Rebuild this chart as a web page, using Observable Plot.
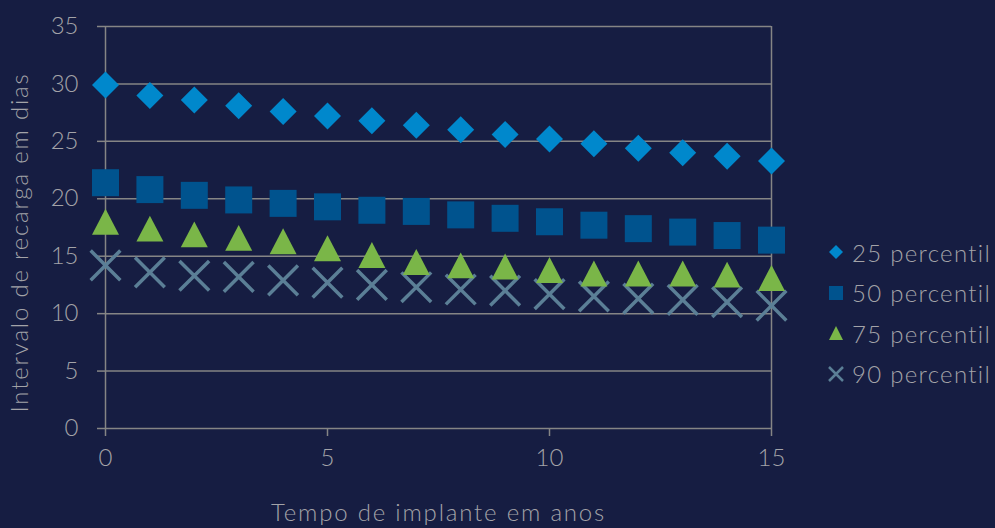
<!DOCTYPE html>
<html>
<head>
<meta charset="utf-8">
<script src="https://cdn.jsdelivr.net/npm/d3@7"></script>
<script src="https://cdn.jsdelivr.net/npm/@observablehq/plot@0.6"></script>
<style>
  html, body { margin: 0; padding: 0; background: #161d42; }
  #wrap { position: relative; width: 995px; height: 528px; overflow: hidden; background: #161d42; }
  #legend { position: absolute; left: 826px; top: 232px; font-family: Lato, "Open Sans", sans-serif; font-weight: 300; font-size: 24px; letter-spacing: 1.3px; color: #a3a3a8; }
  .row { height: 40.5px; display: flex; align-items: center; white-space: nowrap; }
  .row svg { width: 20px; height: 20px; margin-right: 6px; }
  svg [aria-label$="axis label"] { font-size: 24px; letter-spacing: 1.8px; }
  svg .ytitle text { letter-spacing: 1.8px; }
</style>
</head>
<body>
<div id="wrap"><div id="legend"></div></div>
<script>
const years = [0,1,2,3,4,5,6,7,8,9,10,11,12,13,14,15];
const p25 = [29.9,29.0,28.6,28.1,27.6,27.2,26.8,26.4,26.0,25.6,25.2,24.8,24.4,24.0,23.7,23.3];
const p50 = [21.4,20.8,20.3,19.9,19.6,19.3,19.0,18.9,18.6,18.3,18.0,17.7,17.4,17.1,16.8,16.4];
const p75 = [18.0,17.4,16.9,16.6,16.3,15.7,15.1,14.5,14.2,14.1,13.8,13.5,13.5,13.5,13.4,13.1];
const p90 = [14.2,13.6,13.3,13.2,12.9,12.7,12.5,12.3,12.1,12.0,11.7,11.5,11.3,11.2,11.0,10.7];
const seriesNames = ["25 percentil","50 percentil","75 percentil","90 percentil"];
const yTicks = [0,5,10,15,20,25,30,35];
const xTicks = [0,5,10,15];
const xTitle = "Tempo de implante em anos";
const yTitle = "Intervalo de recarga em dias";

const colors = ["#0088cc","#00538e","#7ab648","#5b7f96"];

const rOf = s => Math.sqrt(s / Math.PI);
const symDiamond = { draw(c, s) { const r = rOf(s); c.moveTo(0,-r); c.lineTo(r,0); c.lineTo(0,r); c.lineTo(-r,0); c.closePath(); } };
const symSquare = { draw(c, s) { const r = rOf(s); c.rect(-r,-r,2*r,2*r); } };
const symTriangle = { draw(c, s) { const r = rOf(s); c.moveTo(0,-r*0.96); c.lineTo(r,r*0.96); c.lineTo(-r,r*0.96); c.closePath(); } };
const symTimes = { draw(c, s) { const r = rOf(s) * 1.1; c.moveTo(-r,-r); c.lineTo(r,r); c.moveTo(r,-r); c.lineTo(-r,r); } };

const rows = (vals) => years.map((x, i) => ({x, y: vals[i]}));

const font = "Lato, 'Open Sans', sans-serif";
const textColor = "#a3a3a8";
const gridColor = "#858585";

const chart = Plot.plot({
  width: 995,
  height: 528,
  marginLeft: 105,
  marginRight: 224,
  marginTop: 26,
  marginBottom: 100,
  style: { background: "#161d42", color: textColor, fontFamily: font, fontSize: "24px", fontWeight: 300 },
  x: { domain: [0, 15] },
  y: { domain: [0, 35] },
  marks: [
    Plot.gridY(yTicks, { stroke: gridColor, strokeOpacity: 1, strokeWidth: 1.5 }),
    Plot.ruleX([0, 15], { stroke: gridColor, strokeWidth: 1.5 }),
    Plot.axisY(yTicks, { tickSize: 8, tickPadding: 19, stroke: gridColor, strokeWidth: 1.5, fill: textColor, fontSize: 24, label: null }),
    Plot.axisX(xTicks, { tickSize: 8, tickPadding: 12, stroke: gridColor, strokeWidth: 1.5, fill: textColor, fontSize: 24,
      label: xTitle, labelAnchor: "center", labelOffset: 92, labelArrow: "none" }),
    Plot.text([yTitle], { text: d => d, frameAnchor: "left", textAnchor: "middle", lineAnchor: "middle", rotate: -90, dx: -85, dy: 15, fontSize: 24, fill: textColor, className: "ytitle" }),
    Plot.dot(rows(p90), { x: "x", y: "y", symbol: symTimes, r: 13.5, stroke: colors[3], strokeWidth: 3.5, fill: "none" }),
    Plot.dot(rows(p75), { x: "x", y: "y", symbol: symTriangle, r: 13.5, fill: colors[2], stroke: "none" }),
    Plot.dot(rows(p50), { x: "x", y: "y", symbol: symSquare, r: 13.5, fill: colors[1], stroke: "none" }),
    Plot.dot(rows(p25), { x: "x", y: "y", symbol: symDiamond, r: 13.5, fill: colors[0], stroke: "none" })
  ]
});
document.getElementById("wrap").prepend(chart);

const icons = [
  `<polygon points="10,3 17,10 10,17 3,10" fill="${colors[0]}"/>`,
  `<rect x="3" y="3" width="14" height="14" fill="${colors[1]}"/>`,
  `<polygon points="10,3 17,17 3,17" fill="${colors[2]}"/>`,
  `<path d="M3,3L17,17M17,3L3,17" stroke="${colors[3]}" stroke-width="2.5"/>`
];
const legend = document.getElementById("legend");
seriesNames.forEach((n, i) => {
  const d = document.createElement("div");
  d.className = "row";
  d.innerHTML = `<svg viewBox="0 0 20 20">${icons[i]}</svg><span>${n}</span>`;
  legend.appendChild(d);
});
</script>
</body>
</html>
